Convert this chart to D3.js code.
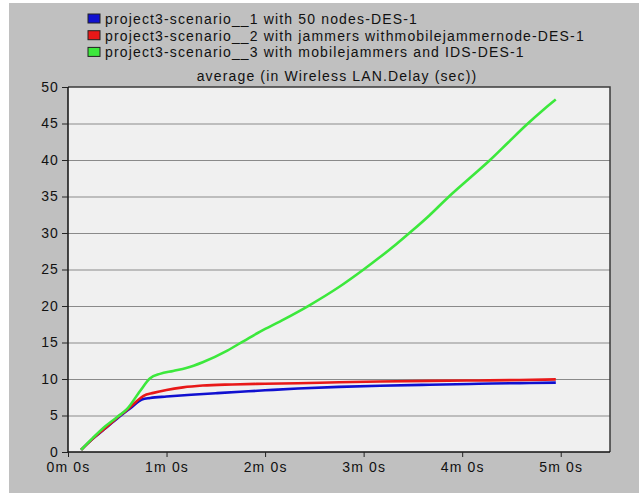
<!DOCTYPE html>
<html>
<head>
<meta charset="utf-8">
<style>
  body { margin: 0; background: #fff; }
  svg { display: block; font-family: "Liberation Sans", Arial, sans-serif; }
  svg text { letter-spacing: 1.15px; }
  .axis text { font-size: 14px; fill: #111; font-family: "Liberation Sans", Arial, sans-serif; }
  .axis path { display: none; }
  .axis line { stroke: #222; }
  .grid line { stroke: #8a8a8a; }
  .grid path { display: none; }
</style>
</head>
<body>
<svg width="639" height="493"></svg>
<script src="https://d3js.org/d3.v7.min.js"></script>
<script>

// time in seconds, delay in sec
var seriesNames = [
  "project3-scenario__1 with 50 nodes-DES-1",
  "project3-scenario__2 with jammers withmobilejammernode-DES-1",
  "project3-scenario__3 with mobilejammers and IDS-DES-1"
];
var seriesColors = ["#1010d0", "#e81818", "#3ce83c"];

var blueData = [[8,0.3],[15,1.8],[22,3.1],[30,4.6],[38,6.0],[45,7.2],[50,7.4],[60,7.6],[75,7.85],
  [90,8.05],[105,8.25],[120,8.45],[140,8.7],[165,8.92],[190,9.08],[220,9.22],[250,9.34],[275,9.44],[297,9.5]];
var redData = [[8,0.3],[15,1.8],[22,3.15],[30,4.7],[36,5.8],[42,7.0],[46,7.7],[52,8.1],[60,8.5],[70,8.85],
  [82,9.1],[100,9.25],[120,9.35],[140,9.42],[165,9.55],[190,9.65],[220,9.74],[250,9.8],[275,9.86],[297,9.95]];
var greenData = [[8,0.3],[15,1.9],[22,3.4],[30,4.8],[36,5.9],[44,8.4],[50,10.1],[56,10.7],[64,11.1],[72,11.5],
  [82,12.3],[97,13.9],[107,15.2],[117,16.5],[130,18.0],[147,20.1],[165,22.6],[180,25.0],[190,26.7],
  [200,28.5],[210,30.4],[220,32.4],[232,35.0],[245,37.6],[257,40.0],[268,42.4],[279,44.8],[290,47.0],[297,48.3]];

var yTicks = [0, 5, 10, 15, 20, 25, 30, 35, 40, 45, 50];
var xTicks = [0, 60, 120, 180, 240, 300];
var xTickLabels = ["0m 0s", "1m 0s", "2m 0s", "3m 0s", "4m 0s", "5m 0s"];
var chartTitle = "average (in Wireless LAN.Delay (sec))";

var svg = d3.select("svg");

// outer grey panel
svg.append("rect").attr("x", 9).attr("y", 3).attr("width", 630).attr("height", 490).attr("fill", "#c0c0c0");

var x = d3.scaleLinear().domain([0, 330]).range([68, 610]),
    y = d3.scaleLinear().domain([0, 50]).range([452, 87]);

svg.append("rect")
    .attr("x", x(0)).attr("y", y(50))
    .attr("width", x(330) - x(0)).attr("height", y(0) - y(50))
    .attr("fill", "#f0f0f0");

svg.append("g")             //horizontal grid
    .attr("class", "grid")
    .attr("transform", "translate(" + x(0) + ",0)")
    .call(d3.axisRight(y).tickValues(yTicks.slice(1, -1)).tickSize(x(330) - x(0)).tickFormat(""));

var line = d3.line()
    .curve(d3.curveMonotoneX)
    .x(function(d) { return x(d[0]); })
    .y(function(d) { return y(d[1]); });

[blueData, redData, greenData].forEach(function(data, i) {
  svg.append("path")
      .attr("fill", "none")
      .attr("stroke", seriesColors[i])
      .attr("stroke-width", 2.6)
      .attr("stroke-linejoin", "round")
      .attr("d", line(data));
});

// frame: dark top/right, black left/bottom
svg.append("path")
    .attr("fill", "none").attr("stroke", "#3a3a3a").attr("stroke-width", 1.5)
    .attr("d", "M" + x(0) + "," + y(50) + "H" + x(330) + "V" + y(0));
svg.append("path")
    .attr("fill", "none").attr("stroke", "#111").attr("stroke-width", 1.5)
    .attr("d", "M" + x(0) + "," + y(50) + "V" + y(0) + "H" + x(330));

svg.append("g")             //yAxis
    .attr("class", "axis")
    .attr("transform", "translate(" + x(0) + ",0)")
    .call(d3.axisLeft(y).tickValues(yTicks).tickSize(6).tickPadding(3));

svg.append("g")             //xAxis
    .attr("class", "axis")
    .attr("transform", "translate(0," + y(0) + ")")
    .call(d3.axisBottom(x).tickValues(xTicks).tickSize(5).tickPadding(5)
      .tickFormat(function(d, i) { return xTickLabels[i]; }));

svg.append("text")
    .attr("x", 337).attr("y", 81)
    .attr("text-anchor", "middle")
    .style("font-size", "14px").attr("fill", "#111")
    .text(chartTitle);

var legend = svg.selectAll(".legend")
    .data(seriesNames)
    .enter().append("g")
      .attr("class", "legend")
      .attr("transform", function(d, i) { return "translate(88," + (14 + i * 16.7) + ")"; });

legend.append("rect")
    .attr("width", 12).attr("height", 9)
    .attr("fill", function(d, i) { return seriesColors[i]; })
    .attr("stroke", "#222").attr("stroke-width", 1);

legend.append("text")
    .attr("x", 17).attr("y", 10)
    .style("font-size", "14px").attr("fill", "#111")
    .text(function(d) { return d; });

</script>
</body>
</html>
